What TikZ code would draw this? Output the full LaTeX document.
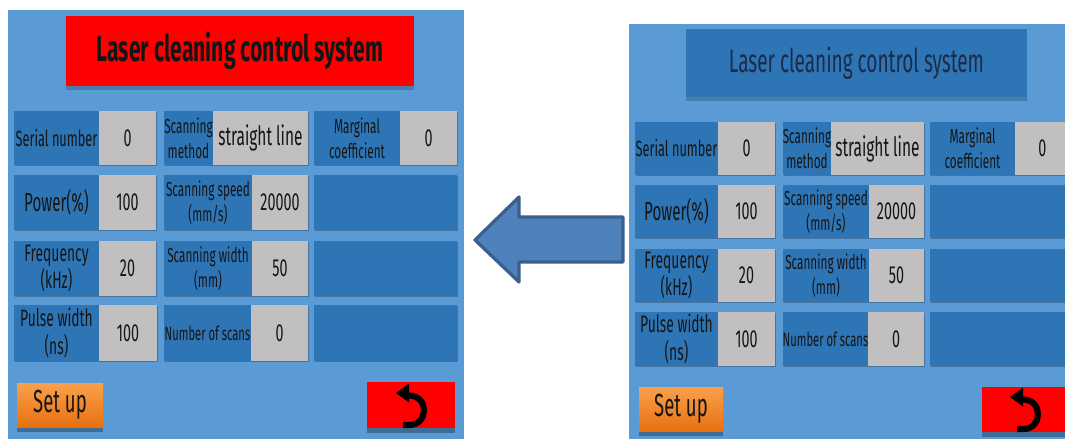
\documentclass[tikz,border=0pt]{standalone}
\usepackage{fontspec}
\setmainfont{Fira Sans}[FakeStretch=0.58]
\usetikzlibrary{shadows}
\definecolor{panelbg}{HTML}{5B9BD5}
\definecolor{cellblue}{HTML}{2E75B6}
\definecolor{cellgrey}{HTML}{C2BFC1}
\definecolor{txt}{HTML}{151515}
\definecolor{navytxt}{HTML}{1C2B48}
\definecolor{btnorangetop}{HTML}{F9A04C}
\definecolor{btnorangebot}{HTML}{E8700F}
\definecolor{arrowfill}{HTML}{4F81BD}
\definecolor{arrowdraw}{HTML}{3A5F8E}
\newcommand\uibox[7]{\node[#6, minimum width={(#4-#2)*0.75pt}, minimum height={(#5-#3)*0.75pt}] (#1) at ({(#2+#4)/2},{(#3+#5)/2}) {#7};}
\tikzset{
  cell/.style={inner sep=0pt, outer sep=0pt, text=txt, align=center,
    drop shadow={shadow xshift=0.7pt, shadow yshift=-0.9pt, opacity=0.25, fill=black}},
  lab/.style={cell, fill=cellblue},
  val/.style={cell, fill=cellgrey},
  big/.style={font=\fontsize{17.9}{20.5}\selectfont},
  med/.style={font=\fontsize{16.5}{19}\selectfont},
  small/.style={font=\fontsize{15.2}{18.5}\selectfont},
  nsc/.style={font=\fontsize{14.5}{17}\selectfont},
  pwr/.style={font=\fontsize{19.6}{22}\selectfont},
  strl/.style={font=\fontsize{20}{23}\selectfont},
  num/.style={font=\fontsize{18.5}{21}\selectfont},
  titlered/.style={inner sep=0pt, fill=red, text=txt, font=\bfseries\fontsize{27.4}{31}\selectfont,
    drop shadow={shadow xshift=0pt, shadow yshift=-3pt, opacity=0.2, fill=black}},
  titleblue/.style={inner sep=0pt, fill=cellblue, text=navytxt, font=\fontsize{24.6}{28}\selectfont,
    drop shadow={shadow xshift=0pt, shadow yshift=-3pt, opacity=0.2, fill=black}},
  setbtn/.style={inner sep=0pt, top color=btnorangetop, bottom color=btnorangebot, text=txt,
    font=\fontsize{24}{27}\selectfont,
    drop shadow={shadow xshift=0pt, shadow yshift=-3.5pt, opacity=0.3, fill=black}},
  retbtn/.style={inner sep=0pt, fill=red,
    drop shadow={shadow xshift=0pt, shadow yshift=-3.5pt, opacity=0.3, fill=black}},
  bigarrow/.style={fill=arrowfill, draw=arrowdraw, line width=2.4pt, line join=round},
  reticon/.style={line width=4.6pt, draw=black}
}
\newcommand\retsym[2]{%
  \begin{scope}[shift={(#1,#2)}]
    \draw[reticon] (404,395.5) -- (409,395.5) .. controls (429,395.5) and (429,425) .. (409,425) -- (403,425);
    \fill[black] (396,393) -- (409,383.5) -- (409,402.5) -- cycle;
  \end{scope}}
\begin{document}
\begin{tikzpicture}[x=0.75pt,y=-0.75pt]
\useasboundingbox (0,0) rectangle (1065,439);
\clip (0,0) rectangle (1065,439);
\fill[white] (0,0) rectangle (1065,439);

% ---------------- left panel ----------------
\fill[panelbg] (8,10) rectangle (464,445);
\uibox{Ltitle}{66}{16}{414}{86}{titlered}{Laser cleaning control system}

\uibox{Lsn}{14}{111}{99}{165}{lab,med}{Serial number}
\uibox{Lsnv}{99}{111}{156}{165}{val,num}{0}
\uibox{Lsm}{164}{111}{213}{165}{lab,small}{Scanning\\method}
\uibox{Lsmv}{213}{111}{308}{165}{val,strl}{straight line}
\uibox{Lmc}{314}{111}{400}{165}{lab,small}{Marginal\\coefficient}
\uibox{Lmcv}{400}{111}{457}{165}{val,num}{0}

\uibox{Lpw}{14}{175}{99}{230}{lab,pwr}{Power(\%)}
\uibox{Lpwv}{99}{175}{156}{230}{val,num}{100}
\uibox{Lss}{164}{175}{252}{230}{lab,small}{Scanning speed\\(mm/s)}
\uibox{Lssv}{252}{175}{308}{230}{val,num}{20000}
\uibox{Le1}{314}{175}{457}{230}{lab}{}

\uibox{Lfr}{14}{241}{99}{296}{lab,big}{Frequency\\(kHz)}
\uibox{Lfrv}{99}{241}{156}{296}{val,num}{20}
\uibox{Lsw}{164}{241}{252}{296}{lab,small}{Scanning width\\(mm)}
\uibox{Lswv}{252}{241}{308}{296}{val,num}{50}
\uibox{Le2}{314}{241}{457}{296}{lab}{}

\uibox{Lpu}{14}{305}{99}{361}{lab,big}{Pulse width\\(ns)}
\uibox{Lpuv}{99}{305}{157}{361}{val,num}{100}
\uibox{Lns}{164}{305}{251}{361}{lab,nsc}{Number of scans}
\uibox{Lnsv}{251}{305}{308}{361}{val,num}{0}
\uibox{Le3}{314}{305}{457}{361}{lab}{}

\uibox{Lset}{17}{383}{103}{427}{setbtn}{Set up}
\uibox{Lret}{367}{382}{455}{428}{retbtn}{}
\retsym{0}{0}

% ---------------- arrow ----------------
\draw[bigarrow] (475,240) -- (519,197) -- (519,217) -- (623,217) -- (623,262) -- (519,262) -- (519,282) -- cycle;

% ---------------- right panel ----------------
\fill[panelbg] (629,24) rectangle (1075,445);
\uibox{Rtitle}{686}{29}{1027}{97}{titleblue}{Laser cleaning control system}

\uibox{Rsn}{635}{122}{718}{175}{lab,med}{Serial number}
\uibox{Rsnv}{718}{122}{775}{175}{val,num}{0}
\uibox{Rsm}{783}{122}{831}{175}{lab,small}{Scanning\\method}
\uibox{Rsmv}{831}{122}{924}{175}{val,strl}{straight line}
\uibox{Rmc}{930}{122}{1015}{175}{lab,small}{Marginal\\coefficient}
\uibox{Rmcv}{1015}{122}{1075}{175}{val,num}{\hspace*{-4pt}0}

\uibox{Rpw}{635}{185}{718}{238}{lab,pwr}{Power(\%)}
\uibox{Rpwv}{718}{185}{775}{238}{val,num}{100}
\uibox{Rss}{783}{185}{869}{238}{lab,small}{Scanning speed\\(mm/s)}
\uibox{Rssv}{869}{185}{924}{238}{val,num}{20000}
\uibox{Re1}{930}{185}{1075}{238}{lab}{}

\uibox{Rfr}{635}{249}{718}{302}{lab,big}{Frequency\\(kHz)}
\uibox{Rfrv}{718}{249}{775}{302}{val,num}{20}
\uibox{Rsw}{783}{249}{869}{302}{lab,small}{Scanning width\\(mm)}
\uibox{Rswv}{869}{249}{924}{302}{val,num}{50}
\uibox{Re2}{930}{249}{1075}{302}{lab}{}

\uibox{Rpu}{635}{312}{718}{366}{lab,big}{Pulse width\\(ns)}
\uibox{Rpuv}{718}{312}{775}{366}{val,num}{100}
\uibox{Rns}{783}{312}{868}{366}{lab,nsc}{Number of scans}
\uibox{Rnsv}{868}{312}{924}{366}{val,num}{0}
\uibox{Re3}{930}{312}{1075}{366}{lab}{}

\uibox{Rset}{639}{387}{723}{431}{setbtn}{Set up}
\uibox{Rret}{982}{387}{1075}{432}{retbtn}{}
\retsym{614}{4}
\end{tikzpicture}
\end{document}
